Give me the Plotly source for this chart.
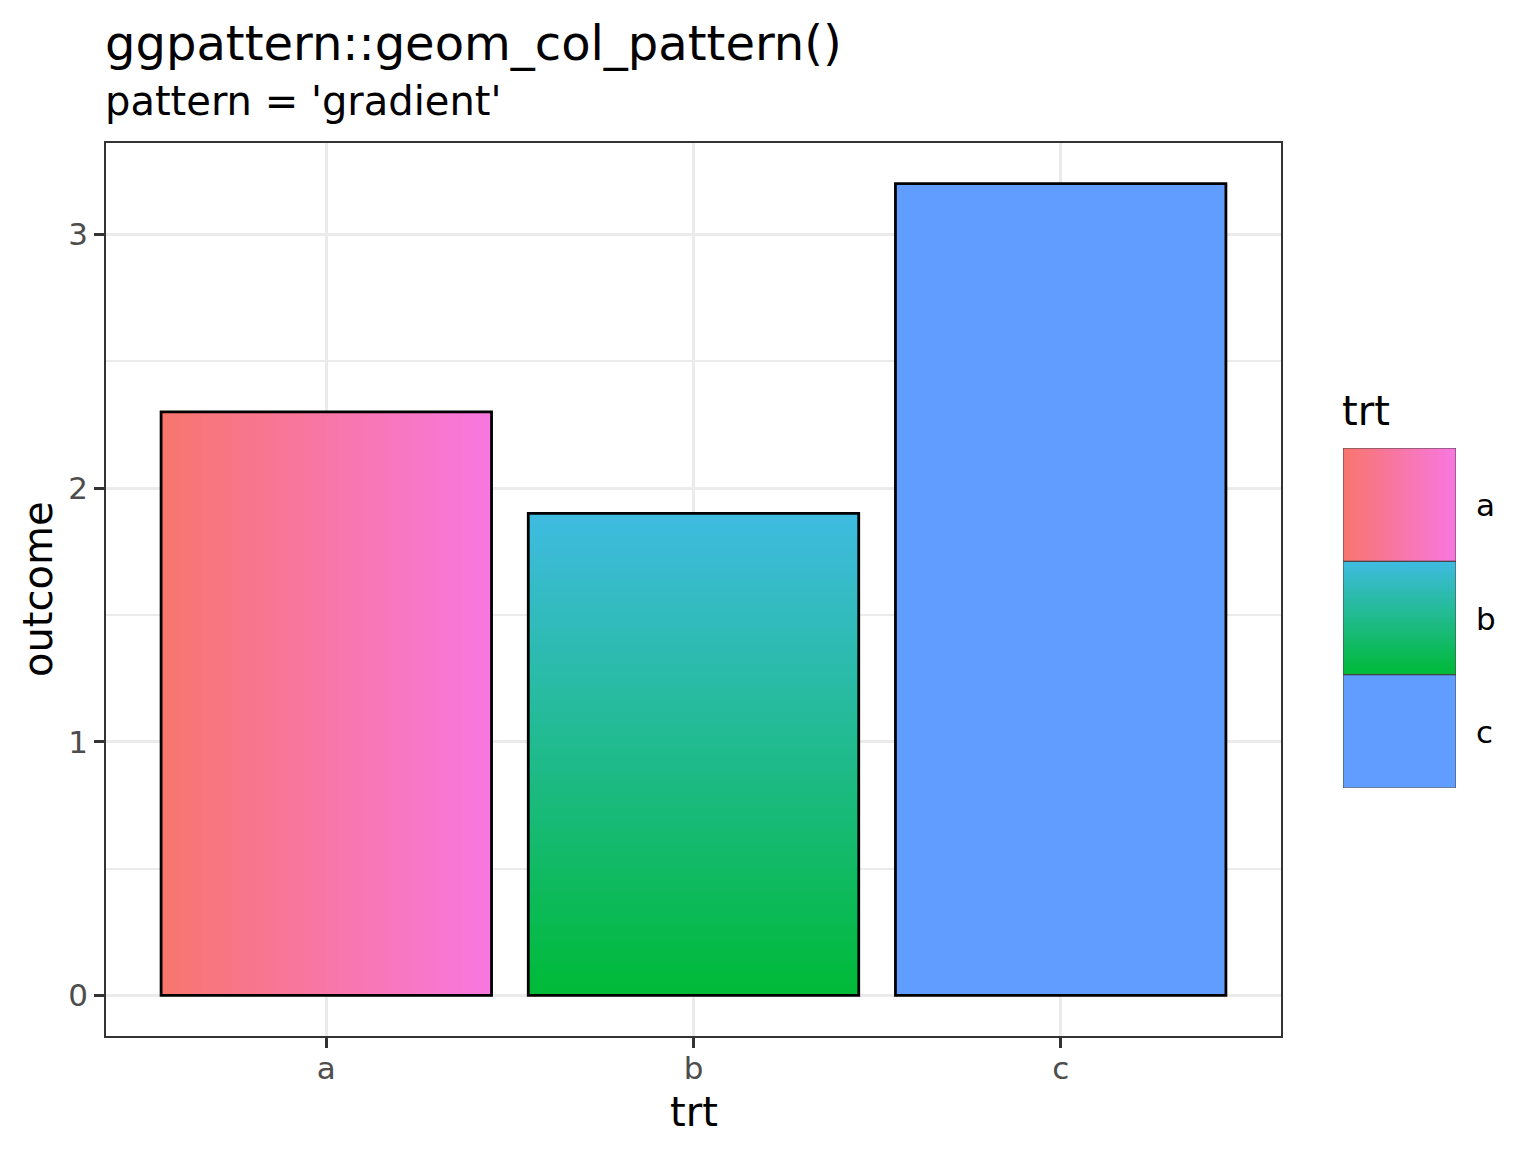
import numpy as np
import plotly.graph_objects as go

# data
trt = ["a", "b", "c"]
outcome = [2.3, 1.9, 3.2]
fill_start = ["#F8766D", "#00BA38", "#619CFF"]
fill_end = ["#F877E0", "#3FBBE0", "#619CFF"]
gradient_dir = ["horizontal", "vertical", "none"]

W, H = 1536, 1152
OX, OY = 8, 8  # page offset of the figure in the screenshot
# panel/legend edges in page pixels
P_L, P_R, P_T, P_B = 106, 1281, 143, 1036
PAPER_R = 1476
ML, MT = P_L - OX, P_T - OY
MR, MB = W - (PAPER_R - OX), H - (P_B - OY)
PW, PH = PAPER_R - P_L, P_B - P_T
FONT = "DejaVu Sans"


def px_x(p):
    return (p - P_L) / PW


def px_y(p):
    return (P_B - p) / PH


N = 80
half = 0.45
fig = go.Figure()


def add_gradient(i, top, c1, c2, kind, xa="x", ya="y", w=half, base=0.0):
    cs = [[0, c1], [1, c2]]
    if kind == "horizontal":
        z = [list(range(N))]
        xs = np.linspace(i - w, i + w, N + 1)
        ys = [base, top]
    elif kind == "vertical":
        z = [[k] for k in range(N)]
        xs = [i - w, i + w]
        ys = np.linspace(base, top, N + 1)
    else:
        z = [[0]]
        xs = [i - w, i + w]
        ys = [base, top]
    fig.add_trace(go.Heatmap(
        z=z, x=xs, y=ys, colorscale=cs, zmin=0, zmax=max(N - 1, 1),
        showscale=False, hoverinfo="skip", xaxis=xa, yaxis=ya,
    ))


# bars with gradient fills
for i, (v, c1, c2, k) in enumerate(zip(outcome, fill_start, fill_end, gradient_dir)):
    add_gradient(i, v, c1, c2, k)

fig.add_trace(go.Bar(
    x=list(range(len(trt))), y=outcome, width=0.9,
    marker=dict(color="rgba(0,0,0,0)", line=dict(color="black", width=2.8)),
    hovertext=trt, showlegend=False,
))

# legend keys (drawn on a small extra axis pair)
nk = len(trt)
for j, (c1, c2, k) in enumerate(zip(fill_start, fill_end, gradient_dir)):
    b = nk - 1 - j
    add_gradient(0, b + 1, c1, c2, k, xa="x2", ya="y2", w=0.5, base=b)
fig.add_trace(go.Bar(
    x=[0] * nk, y=[1] * nk, base=list(range(nk)), width=1,
    marker=dict(color="rgba(0,0,0,0)", line=dict(color="#444444", width=1)),
    xaxis="x2", yaxis="y2", showlegend=False, hoverinfo="skip",
))

grid = "#EBEBEB"
fig.update_layout(
    width=W, height=H,
    margin=dict(l=ML, r=MR, t=MT, b=MB),
    paper_bgcolor="white", plot_bgcolor="white",
    showlegend=False,
    font=dict(family=FONT, color="black"),
    xaxis=dict(
        domain=[0, px_x(P_R)], range=[-0.6, 2.6],
        tickvals=list(range(len(trt))), ticktext=trt,
        showgrid=True, gridcolor=grid, gridwidth=3, zeroline=False,
        ticks="outside", ticklen=10, tickwidth=2.5, tickcolor="#333333",
        tickfont=dict(size=31, color="#4D4D4D"), ticklabelstandoff=-6,
        showline=True, linecolor="#333333", linewidth=1.5, mirror=True,
    ),
    yaxis=dict(
        range=[-0.16, 3.36], tickvals=[0, 1, 2, 3],
        showgrid=True, gridcolor=grid, gridwidth=3, zeroline=False,
        minor=dict(tickvals=[0.5, 1.5, 2.5], showgrid=True, gridcolor=grid,
                   gridwidth=1.5, ticks=""),
        ticks="outside", ticklen=10, tickwidth=2.5, tickcolor="#333333",
        tickfont=dict(size=31, color="#4D4D4D"),
        showline=True, linecolor="#333333", linewidth=1.5, mirror=True,
    ),
    xaxis2=dict(domain=[px_x(1343), px_x(1456)], range=[-0.5, 0.5],
                anchor="y2", visible=False, fixedrange=True),
    yaxis2=dict(domain=[px_y(788), px_y(448)], range=[0, nk],
                anchor="x2", visible=False, fixedrange=True),
)

ann = [
    dict(text="ggpattern::geom_col_pattern()", x=px_x(103), y=px_y(43),
         xanchor="left", yanchor="middle", font=dict(size=48)),
    dict(text="pattern = 'gradient'", x=px_x(103), y=px_y(101),
         xanchor="left", yanchor="middle", font=dict(size=40)),
    dict(text="trt", x=px_x(694), y=px_y(1112),
         xanchor="center", yanchor="middle", font=dict(size=40)),
    dict(text="outcome", x=px_x(38), y=px_y(589), textangle=-90,
         xanchor="center", yanchor="middle", font=dict(size=40)),
    dict(text="trt", x=px_x(1340), y=px_y(411),
         xanchor="left", yanchor="middle", font=dict(size=40)),
]
for j, lab in enumerate(trt):
    ann.append(dict(text=lab, x=px_x(1474), y=px_y(505 + 113.5 * j),
                    xanchor="left", yanchor="middle", font=dict(size=31)))
for a in ann:
    a.update(xref="paper", yref="paper", showarrow=False)
fig.update_layout(annotations=ann)

fig.write_html("out.html")
